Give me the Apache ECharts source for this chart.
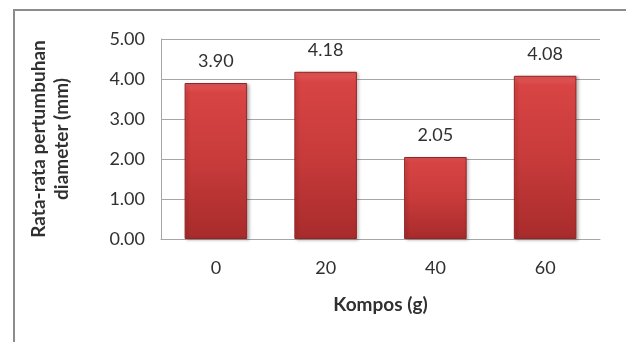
<!DOCTYPE html>
<html>
<head>
<meta charset="utf-8">
<script src="https://cdn.jsdelivr.net/npm/echarts@6/dist/echarts.min.js"></script>
<style>
  html, body { margin: 0; padding: 0; background: #fff; }
  #chart { width: 626px; height: 342px; }
</style>
</head>
<body>
<div id="chart"></div>
<script>
// Compost dose (g) and mean diameter growth (mm)
const categories = ['0', '20', '40', '60'];
const diameterGrowth = [3.90, 4.18, 2.05, 4.08];
const yTicks = { min: 0, max: 5, interval: 1 };

const xTitle = 'Kompos (g)';
const yTitle = 'Rata-rata pertumbuhan\ndiameter (mm)';

const FONT = 'Lato, "Open Sans", sans-serif';
const TEXT = '#303030';
const GRID = '#a6a6a6';

const chart = echarts.init(document.getElementById('chart'), null, { renderer: 'canvas' });

chart.setOption({
  backgroundColor: '#ffffff',
  animation: false,
  graphic: [
    {
      type: 'polyline',
      shape: { points: [[14, 342], [14, 10], [626, 10]] },
      style: { stroke: '#8c8c8c', lineWidth: 2, fill: null },
      silent: true
    }
  ],
  grid: { left: 161, right: 26, top: 39, bottom: 103 },
  xAxis: {
    type: 'category',
    data: categories,
    name: xTitle,
    nameLocation: 'middle',
    nameGap: 56,
    nameTextStyle: { fontFamily: FONT, fontSize: 19, fontWeight: 'bold', color: TEXT },
    axisLine: { show: true, lineStyle: { color: GRID, width: 1 } },
    axisTick: { show: false },
    axisLabel: { fontFamily: FONT, fontSize: 18, color: TEXT, margin: 20 }
  },
  yAxis: {
    type: 'value',
    min: yTicks.min,
    max: yTicks.max,
    interval: yTicks.interval,
    name: yTitle,
    nameLocation: 'middle',
    nameGap: 88,
    nameTextStyle: { fontFamily: FONT, fontSize: 19, fontWeight: 'bold', color: TEXT, lineHeight: 23 },
    axisLine: { show: true, lineStyle: { color: GRID, width: 1 } },
    axisTick: { show: false },
    splitLine: { show: true, lineStyle: { color: GRID, width: 1 } },
    axisLabel: {
      fontFamily: FONT, fontSize: 18, color: TEXT, margin: 16,
      formatter: v => v.toFixed(2)
    }
  },
  series: [{
    type: 'bar',
    data: diameterGrowth,
    barWidth: '57%',
    itemStyle: {
      color: new echarts.graphic.LinearGradient(0, 0, 0, 1, [
        { offset: 0, color: '#e45a5a' },
        { offset: 0.06, color: '#d84444' },
        { offset: 0.5, color: '#c83b3b' },
        { offset: 1, color: '#a82b2b' }
      ]),
      borderColor: '#962424',
      borderWidth: 1,
      shadowColor: 'rgba(0,0,0,0.25)',
      shadowBlur: 3,
      shadowOffsetX: 2,
      shadowOffsetY: 1
    },
    label: {
      show: true,
      position: 'top',
      distance: 13,
      fontFamily: FONT,
      fontSize: 18,
      color: TEXT,
      formatter: p => p.value.toFixed(2)
    }
  }]
});
</script>
</body>
</html>
